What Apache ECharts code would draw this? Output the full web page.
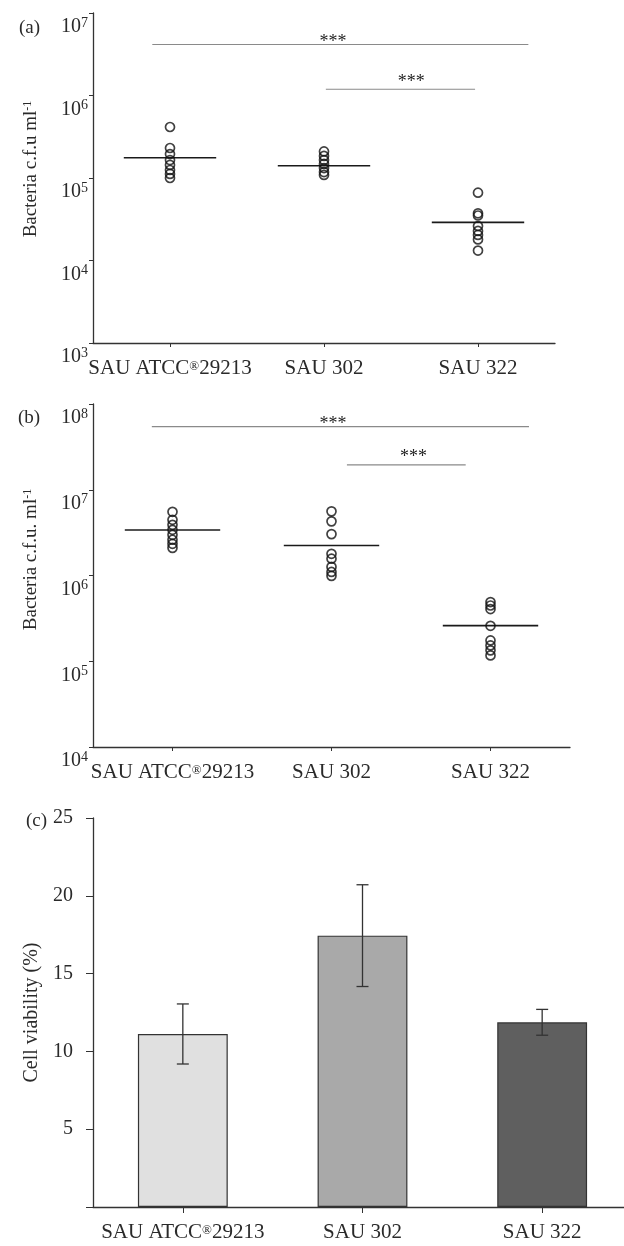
<!DOCTYPE html>
<html>
<head>
<meta charset="utf-8">
<script src="https://cdn.jsdelivr.net/npm/echarts@6/dist/echarts.min.js"></script>
<style>
  html, body { margin: 0; padding: 0; background: #fff; }
  #chart { width: 624px; height: 1246px; }
</style>
</head>
<body>
<div id="chart"></div>
<script>
const strains = ['SAU ATCC®29213', 'SAU 302', 'SAU 322'];

// (a) bacteria c.f.u. ml-1, individual replicates per strain and group means
const cfuA_atcc = [4.15e5, 2.31e5, 1.95e5, 1.65e5, 1.44e5, 1.25e5, 1.12e5, 1.0e5];
const cfuA_302  = [2.10e5, 1.85e5, 1.65e5, 1.48e5, 1.32e5, 1.18e5, 1.09e5];
const cfuA_322  = [6.64e4, 3.73e4, 3.51e4, 2.62e4, 2.28e4, 2.04e4, 1.80e4, 1.32e4];
const cfuA_mean = [1.76e5, 1.41e5, 2.90e4];
// significance brackets for (a): span in category units, level, star label
const sigA_from = [-0.115, 1.012];
const sigA_to = [2.327, 1.981];
const sigA_level = [4.15e6, 1.19e6];
const sigA_starAt = [1.058, 1.566];
const sigA_starLevel = [4.98e6, 1.61e6];

// (b) bacteria c.f.u. ml-1
const cfuB_atcc = [5.53e6, 4.46e6, 3.90e6, 3.41e6, 2.98e6, 2.61e6, 2.34e6, 2.10e6];
const cfuB_302  = [5.60e6, 4.28e6, 3.04e6, 1.79e6, 1.57e6, 1.26e6, 1.10e6, 9.9e5];
const cfuB_322  = [4.90e5, 4.47e5, 4.06e5, 2.59e5, 1.75e5, 1.53e5, 1.34e5, 1.17e5];
const cfuB_mean = [3.40e6, 2.24e6, 2.60e5];
const sigB_from = [-0.13, 1.097];
const sigB_to = [2.242, 1.844];
const sigB_level = [5.46e7, 1.95e7];
const sigB_starAt = [1.009, 1.515];
const sigB_starLevel = [6.41e7, 2.69e7];

// (c) cell viability (%), mean and standard deviation
const viability = [11.12, 17.44, 11.87];
const viabilitySd = [1.93, 3.27, 0.83];
const barColors = ['#e0e0e0', '#a9a9a9', '#5f5f5f'];

const SERIF = '"Liberation Serif", "Times New Roman", serif';
const INK = '#2a2a2a';

function replicates(groups) {
  const out = [];
  groups.forEach((g, i) => g.forEach(v => out.push([i, v])));
  return out;
}
function brackets(from, to, level, starAt, starLevel) {
  return from.map((f, k) => [f, to[k], level[k], starAt[k], starLevel[k]]);
}

function meanBar(params, api) {
  const i = api.value(0), m = api.value(1);
  const a = api.coord([i - 0.3, m]);
  const b = api.coord([i + 0.3, m]);
  return {
    type: 'line',
    shape: { x1: a[0], y1: a[1], x2: b[0], y2: b[1] },
    style: { stroke: '#1a1a1a', lineWidth: 1.6 }
  };
}
function sigBracket(params, api) {
  const a = api.coord([api.value(0), api.value(2)]);
  const b = api.coord([api.value(1), api.value(2)]);
  const s = api.coord([api.value(3), api.value(4)]);
  return {
    type: 'group',
    children: [
      { type: 'line', shape: { x1: a[0], y1: a[1], x2: b[0], y2: b[1] },
        style: { stroke: '#8a8a8a', lineWidth: 1.2 } },
      { type: 'text', x: s[0], y: s[1] + 4,
        style: { text: '***', fill: '#1e1e1e', font: '18px ' + SERIF,
                 align: 'center', verticalAlign: 'middle' } }
    ]
  };
}
function errorBar(params, api) {
  const i = api.value(0);
  const lo = api.coord([i, api.value(1)]);
  const hi = api.coord([i, api.value(2)]);
  const h = 6;
  const st = { stroke: '#333', lineWidth: 1.3 };
  return {
    type: 'group',
    children: [
      { type: 'line', shape: { x1: lo[0], y1: lo[1], x2: hi[0], y2: hi[1] }, style: st },
      { type: 'line', shape: { x1: lo[0] - h, y1: lo[1], x2: lo[0] + h, y2: lo[1] }, style: st },
      { type: 'line', shape: { x1: hi[0] - h, y1: hi[1], x2: hi[0] + h, y2: hi[1] }, style: st }
    ]
  };
}

const axisLine = { show: true, onZero: false, lineStyle: { color: '#333', width: 1.3 } };

function categoryAxis(gridIndex, tickLen) {
  return {
    type: 'category', gridIndex, data: strains, boundaryGap: true,
    axisLine, axisTick: { show: true, alignWithLabel: true, length: tickLen, lineStyle: { color: '#333' } },
    axisLabel: {
      margin: 15, color: INK, fontFamily: SERIF, fontSize: 21, interval: 0,
      formatter: s => s.replace('®', '{r|®}'),
      rich: { r: { fontSize: 13, fontFamily: SERIF, color: INK, verticalAlign: 'top', padding: [2, 0, 0, 0] } }
    },
    splitLine: { show: false }
  };
}
function hiddenValueAxis(gridIndex) {
  return { type: 'value', gridIndex, min: -0.5, max: 2.5, show: false };
}
function logAxis(gridIndex, min, max, name, namePad) {
  return {
    type: 'log', logBase: 10, gridIndex, min, max,
    axisLine, axisTick: { show: true, length: 4, lineStyle: { color: '#333' } },
    minorTick: { show: false }, splitLine: { show: false },
    axisLabel: {
      margin: 5, verticalAlign: 'top', padding: [3, 0, 0, 0],
      formatter: v => '{b|10}{s|' + Math.round(Math.log10(v)) + '}',
      rich: {
        b: { fontSize: 20, fontFamily: SERIF, color: INK, verticalAlign: 'bottom', lineHeight: 21 },
        s: { fontSize: 14, fontFamily: SERIF, color: INK, verticalAlign: 'top', lineHeight: 21 }
      }
    },
    name, nameLocation: 'middle', nameRotate: 90, nameGap: 52,
    nameTextStyle: {
      fontFamily: SERIF, fontSize: 19, color: INK, padding: namePad,
      rich: { s: { fontSize: 12, fontFamily: SERIF, color: INK, verticalAlign: 'top' } }
    }
  };
}

const chart = echarts.init(document.getElementById('chart'), null, { renderer: 'canvas' });

const panelTitle = { fontFamily: SERIF, fontSize: 19, fontWeight: 'normal', color: INK };

chart.setOption({
  animation: false,
  backgroundColor: '#fff',
  title: [
    { text: '(a)', left: 14, top: 14, textStyle: panelTitle },
    { text: '(b)', left: 13, top: 404, textStyle: panelTitle },
    { text: '(c)', left: 21, top: 807, textStyle: panelTitle }
  ],
  grid: [
    { left: 93, top: 13, width: 462, height: 330, containLabel: false, outerBoundsMode: 'none' },
    { left: 93, top: 404, width: 477, height: 343, containLabel: false, outerBoundsMode: 'none' },
    { left: 93, top: 818, width: 539, height: 389, containLabel: false, outerBoundsMode: 'none' }
  ],
  xAxis: [
    categoryAxis(0, 4),
    hiddenValueAxis(0),
    categoryAxis(1, 4),
    hiddenValueAxis(1),
    categoryAxis(2, 6)
  ],
  yAxis: [
    logAxis(0, 1e3, 1e7, 'Bacteria c.f.u ml{s|-1}', [0, 0, 0, 18]),
    logAxis(1, 1e4, 1e8, 'Bacteria c.f.u. ml{s|-1}', [0, 0, 0, 32]),
    {
      type: 'value', gridIndex: 2, min: 0, max: 25, interval: 5,
      axisLine, axisTick: { show: true, length: 7, lineStyle: { color: '#333' } },
      splitLine: { show: false },
      axisLabel: { margin: 20, color: INK, fontFamily: SERIF, fontSize: 20,
                   formatter: v => (v === 0 ? '' : String(v)) },
      name: 'Cell viability (%)', nameLocation: 'middle', nameRotate: 90, nameGap: 43,
      nameTextStyle: { fontFamily: SERIF, fontSize: 20, color: INK, padding: [0, 0, 0, 0] }
    }
  ],
  series: [
    // (a)
    { type: 'scatter', xAxisIndex: 1, yAxisIndex: 0,
      data: replicates([cfuA_atcc, cfuA_302, cfuA_322]),
      symbol: 'circle', symbolSize: 9,
      itemStyle: { color: 'rgba(255,255,255,0)', borderColor: '#111', borderWidth: 1.7 } },
    { type: 'custom', xAxisIndex: 1, yAxisIndex: 0,
      data: cfuA_mean.map((m, i) => [i, m]), renderItem: meanBar, encode: { x: 0, y: 1 } },
    { type: 'custom', xAxisIndex: 1, yAxisIndex: 0, clip: false,
      data: brackets(sigA_from, sigA_to, sigA_level, sigA_starAt, sigA_starLevel),
      renderItem: sigBracket, encode: { x: [0, 1, 3], y: [2, 4] } },
    // (b)
    { type: 'scatter', xAxisIndex: 3, yAxisIndex: 1,
      data: replicates([cfuB_atcc, cfuB_302, cfuB_322]),
      symbol: 'circle', symbolSize: 9,
      itemStyle: { color: 'rgba(255,255,255,0)', borderColor: '#111', borderWidth: 1.7 } },
    { type: 'custom', xAxisIndex: 3, yAxisIndex: 1,
      data: cfuB_mean.map((m, i) => [i, m]), renderItem: meanBar, encode: { x: 0, y: 1 } },
    { type: 'custom', xAxisIndex: 3, yAxisIndex: 1, clip: false,
      data: brackets(sigB_from, sigB_to, sigB_level, sigB_starAt, sigB_starLevel),
      renderItem: sigBracket, encode: { x: [0, 1, 3], y: [2, 4] } },
    // (c)
    { type: 'bar', xAxisIndex: 4, yAxisIndex: 2, barWidth: '50%',
      data: viability.map((v, i) => ({
        value: v,
        itemStyle: { color: barColors[i], borderColor: '#333', borderWidth: 1.2 }
      })) },
    { type: 'custom', xAxisIndex: 4, yAxisIndex: 2, z: 5,
      data: viability.map((v, i) => [i, v - viabilitySd[i], v + viabilitySd[i]]),
      renderItem: errorBar, encode: { x: 0, y: [1, 2] } }
  ]
});
</script>
</body>
</html>
